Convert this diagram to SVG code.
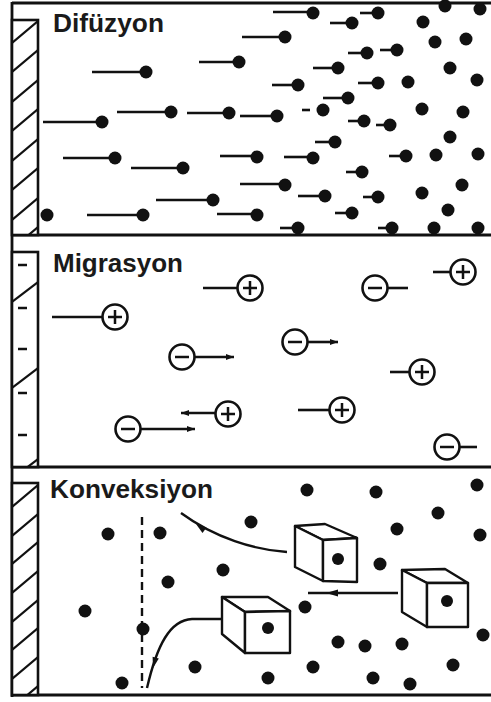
<svg xmlns="http://www.w3.org/2000/svg" width="491" height="702" viewBox="0 0 491 702">
  <style>
    .frame { stroke: #111; stroke-width: 2.8; fill: none; }
    .wall { stroke: #111; stroke-width: 2.6; fill: #fff; }
    .hatch { stroke: #111; stroke-width: 2.2; fill: none; }
    .tail { stroke: #111; stroke-width: 2.6; fill: none; }
    .dot { fill: #111; }
    .ion { fill: #fff; stroke: #111; stroke-width: 2.6; }
    .sign { stroke: #111; stroke-width: 2.5; fill: none; }
    .cube { fill: #fff; stroke: #111; stroke-width: 2.4; stroke-linejoin: round; }
    .flow { stroke: #111; stroke-width: 2.4; fill: none; }
    .head { fill: #111; }
    .label { font-family: "Liberation Sans", Arial, sans-serif; font-weight: bold; font-size: 25px; fill: #1a1a1a; }
  </style>
  <defs>
    <marker id="arrowR" viewBox="0 0 8 6" refX="8" refY="3" markerWidth="8" markerHeight="6" markerUnits="userSpaceOnUse" orient="auto">
      <path d="M0,0 L8,3 L0,6 z" fill="#111"/>
    </marker>
    <clipPath id="wall1"><rect x="12" y="20" width="26" height="215"/></clipPath>
    <clipPath id="wall2"><rect x="12" y="252" width="26" height="215"/></clipPath>
    <clipPath id="wall3"><rect x="12" y="483" width="26" height="212"/></clipPath>
  </defs>

  <rect width="491" height="702" fill="#fff"/>

  <!-- outer frame and panel separators -->
  <g id="frame">
    <line class="frame" x1="12" y1="3" x2="491" y2="3"/>
    <line class="frame" x1="12" y1="2" x2="12" y2="697"/>
    <line class="frame" x1="12" y1="235" x2="491" y2="235"/>
    <line class="frame" x1="12" y1="467" x2="491" y2="467"/>
    <line class="frame" x1="11" y1="695" x2="491" y2="695" stroke-width="3.6"/>
  </g>

  <!-- electrode walls -->
  <g id="wall-diffusion">
    <rect class="wall" x="12" y="20" width="26" height="215"/>
    <g class="hatch" clip-path="url(#wall1)">
      <line x1="12" y1="43" x2="38" y2="21"/>
      <line x1="12" y1="72" x2="38" y2="50"/>
      <line x1="12" y1="102" x2="38" y2="80"/>
      <line x1="12" y1="131" x2="38" y2="109"/>
      <line x1="12" y1="161" x2="38" y2="139"/>
      <line x1="12" y1="190" x2="38" y2="168"/>
      <line x1="12" y1="220" x2="38" y2="198"/>
      <line x1="12" y1="249" x2="38" y2="227"/>
    </g>
  </g>

  <g id="wall-migration">
    <rect class="wall" x="12" y="252" width="26" height="215"/>
    <g class="hatch" clip-path="url(#wall2)">
      <line x1="12" y1="302" x2="38" y2="282"/>
      <line x1="12" y1="388" x2="38" y2="368"/>
      <line x1="12" y1="479" x2="38" y2="459"/>
    </g>
    <g class="sign" stroke-width="2.8">
      <line x1="18" y1="265" x2="27" y2="265"/>
      <line x1="18" y1="308" x2="27" y2="308"/>
      <line x1="18" y1="349" x2="27" y2="349"/>
      <line x1="18" y1="393" x2="27" y2="393"/>
      <line x1="18" y1="435" x2="27" y2="435"/>
    </g>
  </g>

  <g id="wall-convection">
    <rect class="wall" x="12" y="483" width="26" height="212"/>
    <g class="hatch" clip-path="url(#wall3)">
      <line x1="12" y1="507" x2="38" y2="485"/>
      <line x1="12" y1="536" x2="38" y2="514"/>
      <line x1="12" y1="564" x2="38" y2="542"/>
      <line x1="12" y1="593" x2="38" y2="571"/>
      <line x1="12" y1="622" x2="38" y2="600"/>
      <line x1="12" y1="650" x2="38" y2="628"/>
      <line x1="12" y1="679" x2="38" y2="657"/>
      <line x1="12" y1="708" x2="38" y2="686"/>
    </g>
  </g>

  <!-- titles -->
  <text class="label" x="53" y="32" textLength="111" lengthAdjust="spacingAndGlyphs">Difüzyon</text>
  <text class="label" x="53" y="272" textLength="130" lengthAdjust="spacingAndGlyphs">Migrasyon</text>
  <text class="label" x="50" y="498" textLength="163" lengthAdjust="spacingAndGlyphs">Konveksiyon</text>

  <!-- diffusion: particles with motion trails -->
  <g id="diffusion">
    <g class="tail">
      <line x1="92" y1="72" x2="140" y2="72"/>
      <line x1="199" y1="62" x2="233" y2="62"/>
      <line x1="43" y1="122" x2="96" y2="122"/>
      <line x1="117" y1="112" x2="165" y2="112"/>
      <line x1="187" y1="113" x2="223" y2="113"/>
      <line x1="63" y1="158" x2="109" y2="158"/>
      <line x1="131" y1="168" x2="177" y2="168"/>
      <line x1="156" y1="200" x2="207" y2="200"/>
      <line x1="87" y1="215" x2="137" y2="215"/>
      <line x1="273" y1="12" x2="307" y2="12"/>
      <line x1="360" y1="13" x2="372" y2="13"/>
      <line x1="330" y1="23" x2="346" y2="23"/>
      <line x1="242" y1="37" x2="279" y2="37"/>
      <line x1="348" y1="53" x2="361" y2="53"/>
      <line x1="380" y1="50" x2="391" y2="50"/>
      <line x1="313" y1="68" x2="332" y2="68"/>
      <line x1="272" y1="85" x2="292" y2="85"/>
      <line x1="358" y1="83" x2="372" y2="83"/>
      <line x1="323" y1="98" x2="342" y2="98"/>
      <line x1="302" y1="110" x2="310" y2="110"/>
      <line x1="240" y1="116" x2="271" y2="116"/>
      <line x1="348" y1="121" x2="358" y2="121"/>
      <line x1="376" y1="125" x2="384" y2="125"/>
      <line x1="315" y1="142" x2="329" y2="142"/>
      <line x1="220" y1="156" x2="251" y2="156"/>
      <line x1="284" y1="157" x2="307" y2="157"/>
      <line x1="389" y1="156" x2="400" y2="156"/>
      <line x1="346" y1="172" x2="356" y2="172"/>
      <line x1="240" y1="184" x2="279" y2="184"/>
      <line x1="298" y1="196" x2="319" y2="196"/>
      <line x1="363" y1="197" x2="372" y2="197"/>
      <line x1="217" y1="214" x2="251" y2="214"/>
      <line x1="335" y1="213" x2="346" y2="213"/>
      <line x1="280" y1="228" x2="292" y2="228"/>
      <line x1="378" y1="228" x2="386" y2="228"/>
    </g>
    <g class="dot">
      <circle cx="146" cy="72" r="6.5"/>
      <circle cx="239" cy="62" r="6.5"/>
      <circle cx="102" cy="122" r="6.5"/>
      <circle cx="171" cy="112" r="6.5"/>
      <circle cx="229" cy="113" r="6.5"/>
      <circle cx="115" cy="158" r="6.5"/>
      <circle cx="183" cy="168" r="6.5"/>
      <circle cx="213" cy="200" r="6.5"/>
      <circle cx="143" cy="215" r="6.5"/>
      <circle cx="47" cy="215" r="6.5"/>
      <circle cx="313" cy="13" r="6.5"/>
      <circle cx="378" cy="13" r="6.5"/>
      <circle cx="352" cy="23" r="6.5"/>
      <circle cx="423" cy="22" r="6.5"/>
      <circle cx="445" cy="6" r="6.5"/>
      <circle cx="480" cy="9" r="6.5"/>
      <circle cx="285" cy="37" r="6.5"/>
      <circle cx="435" cy="42" r="6.5"/>
      <circle cx="466" cy="39" r="6.5"/>
      <circle cx="367" cy="53" r="6.5"/>
      <circle cx="397" cy="50" r="6.5"/>
      <circle cx="338" cy="68" r="6.5"/>
      <circle cx="450" cy="68" r="6.5"/>
      <circle cx="298" cy="85" r="6.5"/>
      <circle cx="378" cy="83" r="6.5"/>
      <circle cx="408" cy="82" r="6.5"/>
      <circle cx="477" cy="80" r="6.5"/>
      <circle cx="348" cy="98" r="6.5"/>
      <circle cx="323" cy="110" r="6.5"/>
      <circle cx="277" cy="116" r="6.5"/>
      <circle cx="422" cy="109" r="6.5"/>
      <circle cx="463" cy="112" r="6.5"/>
      <circle cx="364" cy="121" r="6.5"/>
      <circle cx="390" cy="125" r="6.5"/>
      <circle cx="335" cy="142" r="6.5"/>
      <circle cx="450" cy="137" r="6.5"/>
      <circle cx="257" cy="157" r="6.5"/>
      <circle cx="313" cy="158" r="6.5"/>
      <circle cx="406" cy="156" r="6.5"/>
      <circle cx="436" cy="155" r="6.5"/>
      <circle cx="478" cy="154" r="6.5"/>
      <circle cx="362" cy="172" r="6.5"/>
      <circle cx="285" cy="185" r="6.5"/>
      <circle cx="325" cy="196" r="6.5"/>
      <circle cx="378" cy="197" r="6.5"/>
      <circle cx="422" cy="193" r="6.5"/>
      <circle cx="462" cy="185" r="6.5"/>
      <circle cx="257" cy="215" r="6.5"/>
      <circle cx="352" cy="213" r="6.5"/>
      <circle cx="448" cy="210" r="6.5"/>
      <circle cx="298" cy="228" r="6.5"/>
      <circle cx="392" cy="228" r="6.5"/>
      <circle cx="434" cy="228" r="6.5"/>
      <circle cx="478" cy="228" r="6.5"/>
    </g>
  </g>

  <!-- migration: charged ions with drift trails -->
  <g id="migration">
    <g class="tail">
      <line x1="52" y1="317" x2="103" y2="317"/>
      <line x1="203" y1="288" x2="238" y2="288"/>
      <line x1="433" y1="272" x2="451" y2="272"/>
      <line x1="387" y1="288" x2="408" y2="288"/>
      <line x1="390" y1="372" x2="410" y2="372"/>
      <line x1="298" y1="410" x2="330" y2="410"/>
      <line x1="459" y1="447" x2="477" y2="447"/>
    </g>
    <g class="tail" stroke-width="2.2" marker-end="url(#arrowR)">
      <line x1="195" y1="357" x2="234" y2="357"/>
      <line x1="141" y1="429" x2="195" y2="429"/>
      <line x1="216" y1="413" x2="181" y2="413"/>
      <line x1="308" y1="342" x2="338" y2="342"/>
    </g>
    <g id="ion-p1"><circle class="ion" cx="115" cy="317" r="12.5"/><path class="sign" d="M108,317 H122 M115,310 V324"/></g>
    <g id="ion-p2"><circle class="ion" cx="250" cy="288" r="12.5"/><path class="sign" d="M243,288 H257 M250,281 V295"/></g>
    <g id="ion-p3"><circle class="ion" cx="463" cy="272" r="12.5"/><path class="sign" d="M456,272 H470 M463,265 V279"/></g>
    <g id="ion-p4"><circle class="ion" cx="422" cy="372" r="12.5"/><path class="sign" d="M415,372 H429 M422,365 V379"/></g>
    <g id="ion-p5"><circle class="ion" cx="342" cy="410" r="12.5"/><path class="sign" d="M335,410 H349 M342,403 V417"/></g>
    <g id="ion-p6"><circle class="ion" cx="228" cy="414" r="12.5"/><path class="sign" d="M221,414 H235 M228,407 V421"/></g>
    <g id="ion-m1"><circle class="ion" cx="182" cy="357" r="12.5"/><path class="sign" d="M175,357 H189"/></g>
    <g id="ion-m2"><circle class="ion" cx="128" cy="429" r="12.5"/><path class="sign" d="M121,429 H135"/></g>
    <g id="ion-m3"><circle class="ion" cx="295" cy="342" r="12.5"/><path class="sign" d="M288,342 H302"/></g>
    <g id="ion-m4"><circle class="ion" cx="375" cy="288" r="12.5"/><path class="sign" d="M368,288 H382"/></g>
    <g id="ion-m5"><circle class="ion" cx="447" cy="447" r="12.5"/><path class="sign" d="M440,447 H454"/></g>
  </g>

  <!-- convection: bulk flow of fluid elements -->
  <g id="convection">
    <line class="flow" x1="142" y1="517" x2="142" y2="688" stroke-dasharray="8 5" stroke-width="2.6"/>
    <g id="connectors">
      <path class="flow" d="M287,552 C255,550 215,538 181,513"/>
      <polygon class="head" points="196,524 206.5,527.5 202.5,533"/>
      <path class="flow" d="M222,619 L192,619 C170,620 157,645 147,688"/>
      <polygon class="head" points="153,668 158.8,658.6 152.6,656.8"/>
      <line class="flow" x1="398" y1="593" x2="308" y2="593"/>
      <polygon class="head" points="326,593 338,589.5 338,596.5"/>
    </g>
    <g class="dot">
      <circle cx="108" cy="534" r="6.5"/>
      <circle cx="160" cy="533" r="6.5"/>
      <circle cx="168" cy="582" r="6.5"/>
      <circle cx="223" cy="570" r="6.5"/>
      <circle cx="85" cy="611" r="6.5"/>
      <circle cx="143" cy="629" r="6.5"/>
      <circle cx="195" cy="667" r="6.5"/>
      <circle cx="122" cy="683" r="6.5"/>
      <circle cx="307" cy="490" r="6.5"/>
      <circle cx="376" cy="492" r="6.5"/>
      <circle cx="477" cy="485" r="6.5"/>
      <circle cx="438" cy="513" r="6.5"/>
      <circle cx="251" cy="522" r="6.5"/>
      <circle cx="397" cy="529" r="6.5"/>
      <circle cx="480" cy="535" r="6.5"/>
      <circle cx="380" cy="564" r="6.5"/>
      <circle cx="305" cy="607" r="6.5"/>
      <circle cx="483" cy="635" r="6.5"/>
      <circle cx="338" cy="642" r="6.5"/>
      <circle cx="365" cy="646" r="6.5"/>
      <circle cx="402" cy="644" r="6.5"/>
      <circle cx="313" cy="667" r="6.5"/>
      <circle cx="453" cy="665" r="6.5"/>
      <circle cx="268" cy="678" r="6.5"/>
      <circle cx="373" cy="678" r="6.5"/>
      <circle cx="410" cy="684" r="6.5"/>
    </g>
    <g id="cube-1">
      <polygon class="cube" points="295,526 325,524 357,538 323,540"/>
      <polygon class="cube" points="295,526 323,540 323,581 295,567"/>
      <polygon class="cube" points="323,540 357,538 357,582 323,581"/>
      <circle class="dot" cx="338" cy="559" r="6"/>
    </g>
    <g id="cube-2">
      <polygon class="cube" points="402,570 445,569 468,583 427,583"/>
      <polygon class="cube" points="402,570 427,583 427,627 402,612"/>
      <polygon class="cube" points="427,583 468,583 468,627 427,627"/>
      <circle class="dot" cx="447" cy="601" r="6"/>
    </g>
    <g id="cube-3">
      <polygon class="cube" points="222,597 268,597 290,611 245,612"/>
      <polygon class="cube" points="222,597 245,612 245,653 222,634"/>
      <polygon class="cube" points="245,612 290,611 290,653 245,653"/>
      <circle class="dot" cx="268" cy="628" r="6"/>
    </g>
  </g>
</svg>
